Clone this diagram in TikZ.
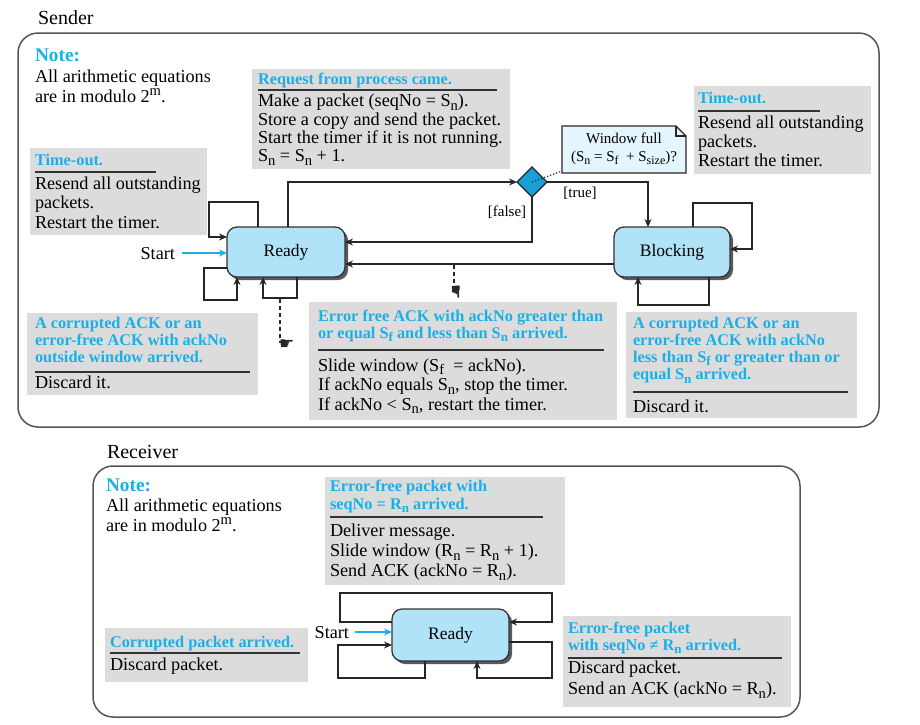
\documentclass[tikz,border=0pt]{standalone}
\usepackage{fontspec}
\setmainfont{Liberation Serif}
\newfontfamily\symf{DejaVu Sans}
\usepackage{graphicx}
\usetikzlibrary{arrows.meta,shapes.geometric,shadows}
\definecolor{tblue}{HTML}{1AAFE6}
\definecolor{boxgray}{HTML}{DCDCDC}
\definecolor{stfill}{HTML}{B0E2F8}
\definecolor{diafill}{HTML}{1A9ED8}
\definecolor{notefill}{HTML}{E4F5FD}
\definecolor{startc}{HTML}{1EAEE8}
\definecolor{framec}{HTML}{555555}
\newcommand{\lo}[1]{\raisebox{-0.2em}{\scalebox{0.8}{#1}}}
\newcommand{\hi}[1]{\raisebox{0.38em}{\scalebox{0.8}{#1}}}
\newcommand{\tst}{\rule{0pt}{14pt}}
\newcommand{\tts}{\rule{0pt}{13pt}}
\tikzset{
  every node/.style={inner sep=0pt, outer sep=0pt},
  frame/.style={draw=framec, line width=1.5pt, rounded corners=20pt},
  lbl/.style={anchor=base west, font=\fontsize{20}{22}\selectfont},
  notehd/.style={anchor=base west, text=tblue, font=\fontsize{19.3}{21}\selectfont\bfseries},
  gbox/.style={fill=boxgray, anchor=north west},
  body/.style={anchor=north west, align=left, font=\fontsize{18.2}{#1}\selectfont},
  body/.default=19,
  ttl/.style={anchor=north west, align=left, text=tblue, font=\fontsize{16.3}{#1}\selectfont\bfseries},
  ttl/.default=17,
  body1/.style={anchor=base west, font=\fontsize{18.2}{19}\selectfont},
  ttl1/.style={anchor=base west, text=tblue, font=\fontsize{16.3}{17}\selectfont\bfseries},
  hrule/.style={draw=black!80, line width=1.2pt},
  state/.style={draw=black!80, line width=1.3pt, fill=stfill, rounded corners=10pt,
    font=\fontsize{17.5}{20}\selectfont,
    drop shadow={shadow xshift=3pt, shadow yshift=-3pt, fill=black!65, opacity=1}},
  arr/.style={draw=black!85, line width=1.3pt, -{Stealth[length=8pt,width=7pt]}},
  sarr/.style={draw=startc, line width=1.3pt, -{Stealth[length=8pt,width=7pt]}},
  dotln/.style={draw=black!85, line width=1.8pt, dash pattern=on 4pt off 3pt},
  small/.style={font=\fontsize{15}{18}\selectfont},
  hand/.style={text=black!85, font=\symf\fontsize{17}{17}\selectfont},
}
\begin{document}
\begin{tikzpicture}[x=1pt,y=-1pt]
\useasboundingbox (0,0) rectangle (920,724);
\fill[white] (0,0) rectangle (920,724);

% ---------- frames ----------
\node[frame, minimum width=861pt, minimum height=394pt] (sframe) at (448.5,230) {};
\node[frame, minimum width=707pt, minimum height=251pt] (rframe) at (446.5,591.5) {};
\node[lbl] (slbl) at (38,24) {Sender};
\node[lbl] (rlbl) at (107,458) {Receiver};

% ---------- sender note ----------
\node[notehd] (n1) at (35,61) {Note:};
\node[body=20.5] (n1b) at (35,68) {\tst All arithmetic equations\\are in modulo 2\hi{m}.};

% ---------- request box ----------
\node[gbox, minimum width=258pt, minimum height=100pt] (rq) at (252,69) {};
\node[ttl1] (rqt) at (258,84) {Request from process came.};
\draw[hrule] (258,90) -- (497,90);
\node[body=18.3] (rqb) at (258,92.7) {\tst Make a packet (seqNo = S\lo{n}).\\Store a copy and send the packet.\\Start the timer if it is not running.\\S\lo{n} = S\lo{n} + 1.};

% ---------- left time-out ----------
\node[gbox, minimum width=177pt, minimum height=87pt] (to1) at (30,148) {};
\node[ttl1] (to1t) at (35,165) {Time-out.};
\draw[hrule] (35,172) -- (156,172);
\node[body=19.5] (to1b) at (35,175) {\tst Resend all outstanding\\packets.\\Restart the timer.};

% ---------- right time-out ----------
\node[gbox, minimum width=177pt, minimum height=88pt] (to2) at (694,86) {};
\node[ttl1] (to2t) at (698,103) {Time-out.};
\draw[hrule] (698,111) -- (820,111);
\node[body=19] (to2b) at (698,114) {\tst Resend all outstanding\\packets.\\Restart the timer.};

% ---------- bottom-left box ----------
\node[gbox, minimum width=231pt, minimum height=82pt] (bl) at (27,313) {};
\node[ttl=17] (blt) at (35,315) {\tts A corrupted ACK or an\\error-free ACK with ackNo\\outside window arrived.};
\draw[hrule] (35,372) -- (250,372);
\node[body1] (blb) at (35,388) {Discard it.};

% ---------- middle box ----------
\node[gbox, minimum width=308pt, minimum height=118pt] (md) at (309,302) {};
\node[ttl=17] (mdt) at (318,308) {\tts Error free ACK with ackNo greater than\\or equal S\lo{f} and less than S\lo{n} arrived.};
\draw[hrule] (318,350) -- (604,350);
\node[body=19.5] (mdb) at (318,357) {\tst Slide window (S\lo{f}\ \ = ackNo).\\If ackNo equals S\lo{n}, stop the timer.\\If ackNo < S\lo{n}, restart the timer.};

% ---------- right box ----------
\node[gbox, minimum width=231pt, minimum height=106pt] (rb) at (626,312) {};
\node[ttl=17.3] (rbt) at (633,315) {\tts A corrupted ACK or an\\error-free ACK with ackNo\\less than S\lo{f} or greater than or\\equal S\lo{n} arrived.};
\draw[hrule] (633,392) -- (848,392);
\node[body1] (rbb) at (633,412) {Discard it.};

% ---------- window-full note ----------
\node[minimum width=124pt, minimum height=47pt] (wn) at (624,149.5) {};
\filldraw[fill=notefill, draw=black!85, line width=1.2pt] (wn.south west) -- (wn.north west) -- ([xshift=-10pt]wn.north east) -- ([yshift=-10pt]wn.north east) -- (wn.south east) -- cycle;
\draw[black!85, line width=1.2pt] ([xshift=-10pt]wn.north east) -- ([xshift=-10pt,yshift=-10pt]wn.north east) -- ([yshift=-10pt]wn.north east);
\node[small, align=center] (wnt) at (624,148.5) {Window full\\(S\lo{n} = S\lo{f}\ \ + S\lo{size})?};

% ---------- states ----------
\node[state, minimum width=118pt, minimum height=50pt] (rdy) at (286,252) {Ready};
\node[state, minimum width=116pt, minimum height=50pt] (blk) at (672,252) {Blocking};
\node[diamond, draw=black!85, line width=1.2pt, fill=diafill, minimum width=30pt, minimum height=30pt] (dia) at (532,182) {};
\draw[black!85, dotted, line width=1.2pt] (dia.center) -- ([yshift=2pt]wn.south west);

% ---------- sender connectors ----------
\draw[arr] ([xshift=2pt]rdy.north) |- (dia.west);
\draw[arr] (dia.east) -| ([xshift=-24pt]blk.north);
\draw[arr] (dia.south) |- ([yshift=10pt]rdy.east);
\draw[arr] ([yshift=-12pt]blk.west) -- ([yshift=-12pt]rdy.east);
\node[small] (tru) at (580,193) {[true]};
\node[small] (fls) at (507,212) {[false]};

% Ready self-loops
\draw[arr] ([xshift=-28pt]rdy.north) -- (258,202) -- (209,202) |- ([yshift=15pt]rdy.west);
\draw[arr] ([yshift=-16pt]rdy.west) -- (204,268) -- (204,300) -| ([xshift=-49pt]rdy.south);
\draw[arr] ([xshift=11pt]rdy.south) -- (297,298) -| ([xshift=-23pt]rdy.south);

% Blocking self-loops
\draw[arr] ([xshift=21pt]blk.north) -- (693,203) -- (752,203) |- ([yshift=3pt]blk.east);
\draw[arr] ([xshift=37pt]blk.south) -- (709,305) -| ([xshift=-34pt]blk.south);

% Start
\node[body1, anchor=base east] (st1) at (175,259) {Start};
\coordinate (s1) at (182,253);
\draw[sarr] (s1) -- (s1 -| rdy.west);

% dotted pointers
\coordinate (d1a) at (280,299);
\coordinate (d1b) at (280,343);
\draw[dotln] (d1a) -- (d1b);
\node[hand, anchor=west] (h1) at (279,345) {☛};
\coordinate (d2a) at (454,265);
\coordinate (d2b) at (454,283);
\draw[dotln] (d2a) -- (d2b);
\node[hand, rotate=-90, anchor=west] (h2) at (455,284) {☛};

% ---------- receiver ----------
\node[notehd] (n2) at (106,491) {Note:};
\node[body=20.5] (n2b) at (106,497) {\tst All arithmetic equations\\are in modulo 2\hi{m}.};

\node[gbox, minimum width=240pt, minimum height=108pt] (rt) at (325,477) {};
\node[ttl=18] (rtt) at (330,478.5) {\tts Error-free packet with\\seqNo = R\lo{n} arrived.};
\draw[hrule] (330,517) -- (543,517);
\node[body=20.2] (rtb) at (330,522.5) {\tst Deliver message.\\Slide window (R\lo{n} = R\lo{n} + 1).\\Send ACK (ackNo = R\lo{n}).};

\node[gbox, minimum width=203pt, minimum height=54pt] (cp) at (105,628) {};
\node[ttl1] (cpt) at (110,647) {Corrupted packet arrived.};
\draw[hrule] (110,653) -- (300,653);
\node[body1] (cpb) at (110,670) {Discard packet.};

\node[gbox, minimum width=228pt, minimum height=91pt] (ef) at (563,616) {};
\node[ttl=16.7] (eft) at (568,620.5) {\tts Error-free packet\\with seqNo ≠ R\lo{n} arrived.};
\draw[hrule] (568,658) -- (782,658);
\node[body=21] (efb) at (568,659.5) {\tst Discard packet.\\Send an ACK (ackNo = R\lo{n}).};

\node[state, minimum width=117pt, minimum height=52pt] (rr) at (450.5,635) {Ready};
\draw[arr] ([yshift=13pt]rr.west) -- (340,622) -- (340,593) -- (552,593) |- ([yshift=13pt]rr.east);
\draw[arr] ([xshift=-25.5pt]rr.south) -- (425,678) -- (338,678) |- ([yshift=-10pt]rr.west);
\draw[arr] ([yshift=-7pt]rr.east) -- (552,642) -- (552,678) -| ([xshift=26.5pt]rr.south);

\node[body1, anchor=base east] (st2) at (349,638) {Start};
\coordinate (s2) at (355,632);
\draw[sarr] (s2) -- (s2 -| rr.west);
\end{tikzpicture}
\end{document}
